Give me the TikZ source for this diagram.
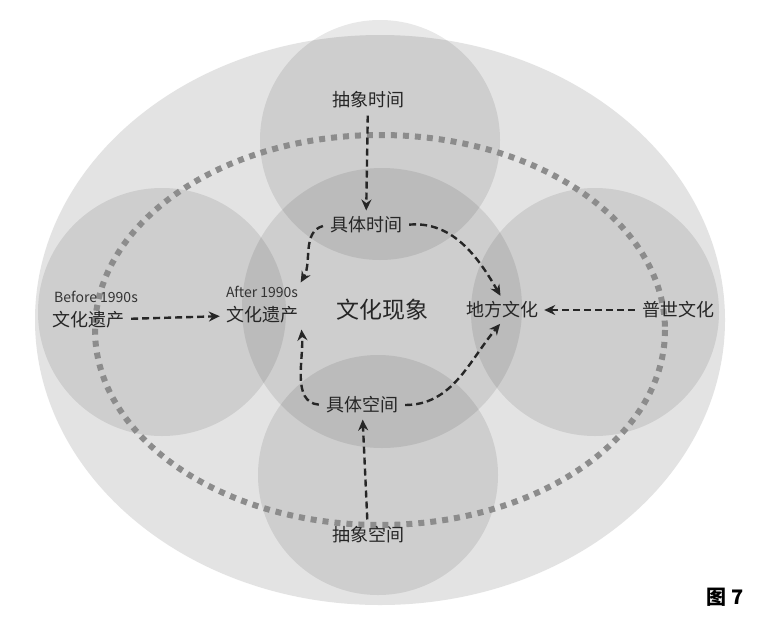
\documentclass[tikz,border=0pt]{standalone}
\usepackage{fontspec}
\setmainfont{Noto Sans CJK SC}
\usetikzlibrary{arrows.meta}
\begin{document}
\begin{tikzpicture}[x=1pt,y=-1pt,
  blob/.style={fill=black,fill opacity=0.09,draw=none},
  lbl/.style={font=\fontsize{18}{20}\selectfont,text=black!85,inner sep=3pt},
  small/.style={font=\fontsize{14}{16}\selectfont,text=black!80,inner sep=1pt},
  arr/.style={-{Stealth[length=11pt,width=10pt]},dash pattern=on 7pt off 4pt,line width=2.4pt,black!85,shorten <=4pt,shorten >=3pt}]
\useasboundingbox (0,0) rectangle (759,621);
\fill[white] (0,0) rectangle (759,621);
\fill[black!11] (380,320) ellipse [x radius=345, y radius=285];
\fill[blob] (380,140) circle (120);
\fill[blob] (378,475) circle (120);
\fill[blob] (162,312) circle (124);
\fill[blob] (595,312) circle (124);
\fill[blob] (382,308) circle (140);
\draw[black!45,line width=6pt,dash pattern=on 6pt off 6pt] (380,330) ellipse [x radius=285, y radius=195];
\node[lbl] (ast) at (368,100) {抽象时间};
\node[lbl] (jt) at (366,225) {具体时间};
\node[font=\fontsize{23}{25}\selectfont,text=black!85] (wh) at (382,310) {文化现象};
\node[lbl] (df) at (502,310) {地方文化};
\node[lbl] (ps) at (678,310) {普世文化};
\node[lbl] (jk) at (362,405) {具体空间};
\node[lbl] (asp) at (368,535) {抽象空间};
\node[small] (b90) at (96,297) {Before 1990s};
\node[lbl] (wl) at (88,320) {文化遗产};
\node[small] (a90) at (262,292) {After 1990s};
\node[lbl] (wr) at (262,315) {文化遗产};
\node[font=\bfseries\fontsize{20}{22}\selectfont] (fig) at (725,597) {图 7};
\draw[arr] (ast) -- (jt);
\draw[arr] (asp) -- (jk);
\draw[arr] (ps) -- (df);
\draw[arr] (wl) -- (wr);
\draw[arr] (jt.west) to[out=195,in=60] (a90.north east);
\draw[arr] (jt.east) to[out=5,in=120] (df.north);
\draw[arr] (jk.west) to[out=175,in=-85] (wr.south east);
\draw[arr] (jk.east) to[out=0,in=-130] (df.south);
\end{tikzpicture}
\end{document}
